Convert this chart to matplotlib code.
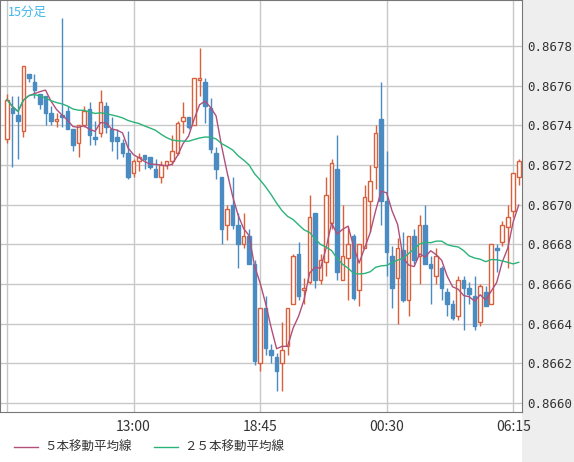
import numpy as np
import pandas as pd
import matplotlib.pyplot as plt
from matplotlib.patches import Rectangle

plt.rcParams['font.family'] = ['Noto Sans CJK JP', 'DejaVu Sans']

# 15-minute OHLC, in units of 1e-5
opens = [86733, 86749, 86745, 86737, 86766, 86762, 86756, 86755, 86746, 86742,
         86745, 86747, 86738, 86731, 86740, 86748, 86734, 86736, 86750, 86738,
         86734, 86731, 86726, 86716, 86722, 86725, 86724, 86718, 86714, 86720,
         86722, 86726, 86742, 86744, 86740, 86763, 86762, 86749, 86726, 86714,
         86690, 86700, 86690, 86680, 86684, 86670, 86620, 86648, 86627, 86623,
         86620, 86629, 86650, 86675, 86657, 86661, 86696, 86662, 86671, 86691,
         86718, 86662, 86673, 86684, 86657, 86678, 86702, 86719, 86743, 86702,
         86674, 86663, 86677, 86652, 86684, 86674, 86690, 86670, 86664, 86668,
         86656, 86650, 86644, 86662, 86658, 86654, 86641, 86656, 86650, 86678,
         86681, 86689, 86697, 86714]
closes = [86753, 86746, 86742, 86770, 86764, 86758, 86751, 86746, 86742, 86743,
          86744, 86738, 86730, 86740, 86747, 86735, 86733, 86752, 86739, 86732,
          86732, 86726, 86714, 86722, 86724, 86723, 86719, 86714, 86720, 86722,
          86727, 86741, 86744, 86739, 86764, 86764, 86750, 86728, 86718, 86688,
          86698, 86690, 86680, 86684, 86670, 86621, 86648, 86628, 86624, 86616,
          86627, 86648, 86674, 86654, 86658, 86694, 86662, 86672, 86705, 86721,
          86666, 86674, 86680, 86653, 86680, 86704, 86712, 86736, 86702, 86676,
          86658, 86678, 86652, 86684, 86672, 86690, 86670, 86668, 86674, 86658,
          86650, 86643, 86662, 86658, 86655, 86639, 86659, 86649, 86680, 86677,
          86690, 86694, 86716, 86722]
highs = [86756, 86755, 86755, 86770, 86766, 86766, 86756, 86755, 86750, 86746,
         86794, 86750, 86738, 86740, 86750, 86752, 86742, 86758, 86752, 86744,
         86738, 86733, 86737, 86723, 86726, 86725, 86724, 86723, 86722, 86722,
         86735, 86742, 86752, 86744, 86764, 86779, 86764, 86754, 86729, 86714,
         86700, 86714, 86696, 86696, 86688, 86672, 86648, 86654, 86630, 86625,
         86641, 86648, 86675, 86681, 86663, 86705, 86696, 86675, 86714, 86723,
         86735, 86700, 86689, 86685, 86680, 86710, 86720, 86740, 86762, 86727,
         86679, 86683, 86686, 86684, 86688, 86695, 86700, 86674, 86678, 86669,
         86658, 86652, 86664, 86664, 86661, 86664, 86660, 86659, 86680, 86680,
         86692, 86700, 86716, 86723]
lows = [86731, 86719, 86723, 86734, 86762, 86754, 86748, 86740, 86740, 86739,
        86739, 86738, 86727, 86724, 86739, 86730, 86730, 86734, 86736, 86727,
        86723, 86724, 86713, 86714, 86717, 86718, 86718, 86714, 86711, 86718,
        86720, 86725, 86736, 86738, 86740, 86755, 86741, 86726, 86713, 86680,
        86682, 86688, 86668, 86678, 86670, 86619, 86616, 86624, 86620, 86606,
        86606, 86624, 86650, 86652, 86650, 86660, 86658, 86660, 86664, 86688,
        86662, 86662, 86652, 86652, 86649, 86678, 86686, 86708, 86690, 86664,
        86648, 86640, 86651, 86644, 86670, 86660, 86670, 86650, 86660, 86652,
        86644, 86642, 86642, 86637, 86650, 86637, 86639, 86649, 86650, 86666,
        86679, 86668, 86694, 86710]

grid_idx = [0, 23, 46, 69, 92]
time_labels = ['', '13:00', '18:45', '00:30', '06:15']
y_ticks = [0.8660, 0.8662, 0.8664, 0.8666, 0.8668, 0.8670, 0.8672, 0.8674, 0.8676, 0.8678]

o = np.array(opens) / 1e5
c = np.array(closes) / 1e5
h = np.array(highs) / 1e5
l = np.array(lows) / 1e5
x = np.arange(len(o))

ma5 = pd.Series(c).rolling(5, min_periods=1).mean()
ma25 = pd.Series(c).rolling(25, min_periods=1).mean()

red = '#d9603b'
blue = '#4a8bc2'

fig = plt.figure(figsize=(5.74, 4.62), dpi=100)
fig.patches.append(Rectangle((522 / 574, 0), 52 / 574, 1, transform=fig.transFigure,
                             facecolor='#eeeeee', edgecolor='none', zorder=-1))
ax = fig.add_axes([0, 50 / 462, 522 / 574, 412 / 462])

for xi, oo, cc, hh, ll in zip(x, o, c, h, l):
    up = cc >= oo
    col = red if up else blue
    ax.vlines(xi, ll, hh, color=col, lw=1, zorder=2)
    bottom = min(oo, cc)
    height = max(abs(cc - oo), 0.000002)
    ax.add_patch(Rectangle((xi - 0.33, bottom), 0.66, height,
                           facecolor='white' if up else blue, edgecolor=col,
                           lw=1, zorder=3))

ax.plot(x, ma5, color='#b0507a', lw=1, zorder=4)
ax.plot(x, ma25, color='#2bb37a', lw=1, zorder=4)

ax.set_xlim(-1.27, 93.6)
ax.set_ylim(0.865955, 0.868032)
ax.set_xticks(grid_idx)
ax.set_xticklabels(time_labels)
ax.set_yticks(y_ticks)
ax.set_yticklabels([f'{v:.4f}' for v in y_ticks])
ax.yaxis.tick_right()
ax.tick_params(length=0, labelsize=10, colors='#333333', pad=4)
ax.tick_params(axis='x', pad=6)
for t in ax.get_yticklabels():
    t.set_family('DejaVu Sans Mono')
    t.set_fontsize(9)
ax.grid(True, color='#c8c8c8', lw=1)
ax.set_axisbelow(True)
for s in ax.spines.values():
    s.set_color('#777777')

ax.text(0.015, 0.985, '15分足', transform=ax.transAxes, color='#40b8e8',
        fontsize=9, va='top', ha='left')

fig.lines.append(plt.Line2D([14 / 574, 38 / 574], [15 / 462, 15 / 462],
                            transform=fig.transFigure, color='#b0507a', lw=1))
fig.text(44 / 574, 15 / 462, '５本移動平均線', fontsize=9, va='center', color='#333333')
fig.lines.append(plt.Line2D([154 / 574, 178 / 574], [15 / 462, 15 / 462],
                            transform=fig.transFigure, color='#2bb37a', lw=1))
fig.text(184 / 574, 15 / 462, '２５本移動平均線', fontsize=9, va='center', color='#333333')

fig.savefig('out.png', dpi=100)
